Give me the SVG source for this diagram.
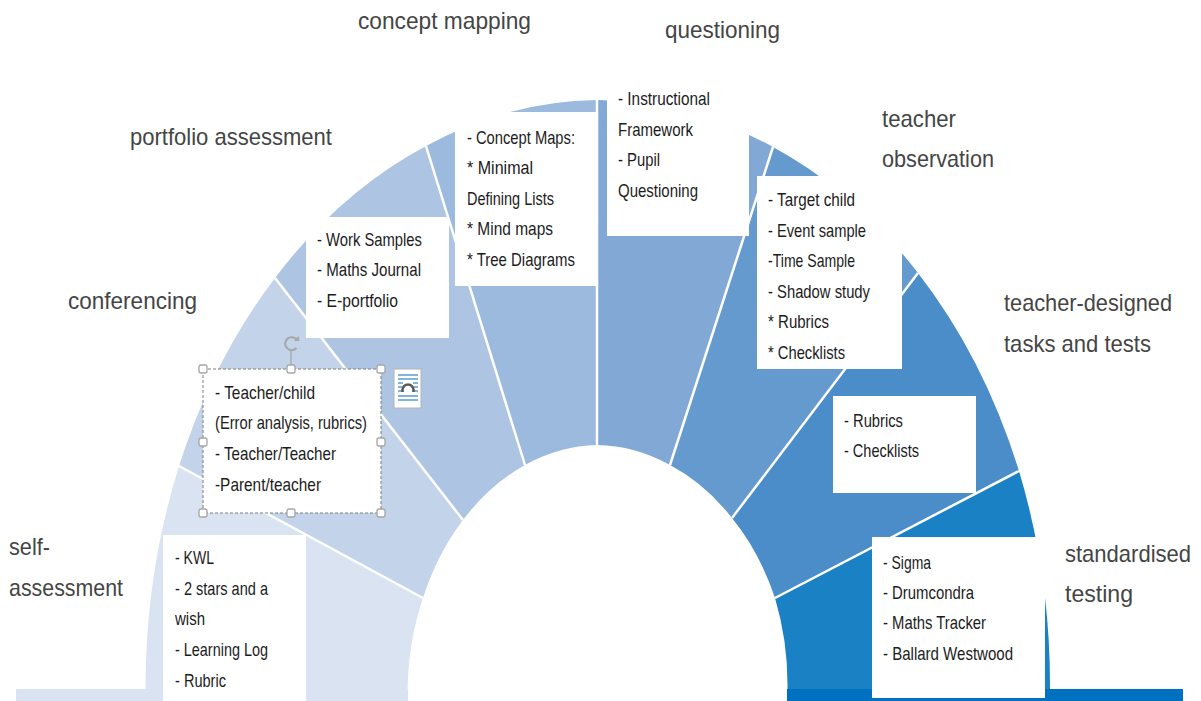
<svg xmlns="http://www.w3.org/2000/svg" width="1201" height="701" viewBox="0 0 1201 701">
<style>
.sep{stroke:#fff;stroke-width:2.5;fill:none}
.box{fill:#fff}
.t{font-family:"Liberation Sans",Arial,sans-serif;font-size:18.5px;fill:#1c1c1c}
.l{font-family:"Liberation Sans",Arial,sans-serif;font-size:24px;fill:#454545}
.h{fill:#fff;stroke:#a6a6a6;stroke-width:1.3}
.sel{fill:#fff;stroke:#7f7f7f;stroke-width:1;stroke-dasharray:3 2}
.ic{stroke:#5b9bd5;stroke-width:1.4;fill:none}
</style>
<rect width="1201" height="701" fill="#fff"/>
<g id="wedges">
<rect x="16" y="689" width="392" height="12" fill="#d9e3f2"/>
<rect x="787" y="689" width="396" height="12" fill="#0070c0"/>
<path fill="#d9e3f2" d="M145.500 690A452 589 0 0 1 179 466L423 598A190 244 0 0 0 407.500 690Z"/>
<path fill="#c3d3ea" d="M179 466A452 589 0 0 1 275 278L463 520A190 244 0 0 0 423 598Z"/>
<path fill="#aec4e3" d="M275 278A452 589 0 0 1 426 146L525 465A190 244 0 0 0 463 520Z"/>
<path fill="#9cb9de" d="M426 146A452 589 0 0 1 597 100L597 445A190 244 0 0 0 525 465Z"/>
<path fill="#82a9d6" d="M597 100A452 589 0 0 1 773 147L670 465A190 244 0 0 0 597 445Z"/>
<path fill="#659acf" d="M773 147A452 589 0 0 1 918 273L732 518A190 244 0 0 0 670 465Z"/>
<path fill="#4a8dc8" d="M918 273A452 589 0 0 1 1019 471L775 598A190 244 0 0 0 732 518Z"/>
<path fill="#1a82c4" d="M1019 471A452 589 0 0 1 1050 689L787.500 689A190 244 0 0 0 775 598Z"/>
</g>
<g id="connectors">
<line class="sep" x1="179" y1="466" x2="423" y2="598"/>
<line class="sep" x1="275" y1="278" x2="463" y2="520"/>
<line class="sep" x1="426" y1="146" x2="525" y2="465"/>
<line class="sep" x1="597" y1="100" x2="597" y2="445"/>
<line class="sep" x1="773" y1="147" x2="670" y2="465"/>
<line class="sep" x1="918" y1="273" x2="732" y2="518"/>
<line class="sep" x1="1019" y1="471" x2="775" y2="598"/>
</g>
<g id="node-self-assessment">
<rect class="box" x="163" y="535" width="143" height="166"/>
<text class="l" x="9" y="555" textLength="41" lengthAdjust="spacingAndGlyphs">self-</text>
<text class="l" x="9" y="596" textLength="114" lengthAdjust="spacingAndGlyphs">assessment</text>
<text class="t" x="175" y="564" textLength="39" lengthAdjust="spacingAndGlyphs">- KWL</text>
<text class="t" x="175" y="595" textLength="93" lengthAdjust="spacingAndGlyphs">- 2 stars and a</text>
<text class="t" x="175" y="625" textLength="30" lengthAdjust="spacingAndGlyphs">wish</text>
<text class="t" x="175" y="656" textLength="93" lengthAdjust="spacingAndGlyphs">- Learning Log</text>
<text class="t" x="175" y="687" textLength="51" lengthAdjust="spacingAndGlyphs">- Rubric</text>
</g>
<g id="node-conferencing">
<text class="l" x="68" y="309" textLength="129" lengthAdjust="spacingAndGlyphs">conferencing</text>
<line x1="291" y1="351" x2="291" y2="369" stroke="#a6a6a6" stroke-width="1.3"/>
<path d="M297 340A6.500 6.500 0 1 0 296.500 348" fill="none" stroke="#a6a6a6" stroke-width="2"/>
<path d="M294 341L299.500 341L298.500 336Z" fill="#a6a6a6"/>
<rect class="sel" x="203" y="369" width="178" height="144"/>
<rect class="h" x="199" y="365" width="8" height="8" rx="2"/>
<rect class="h" x="287" y="365" width="8" height="8" rx="2"/>
<rect class="h" x="377" y="365" width="8" height="8" rx="2"/>
<rect class="h" x="199" y="438" width="8" height="8" rx="2"/>
<rect class="h" x="377" y="438" width="8" height="8" rx="2"/>
<rect class="h" x="199" y="509" width="8" height="8" rx="2"/>
<rect class="h" x="287" y="509" width="8" height="8" rx="2"/>
<rect class="h" x="377" y="509" width="8" height="8" rx="2"/>
<rect x="394" y="369" width="27" height="39" fill="#fff" stroke="#b5b5b5"/>
<path class="ic" d="M398 375H418M398 379H418M398 383H403M413 383H418M398 387H402M414 387H418M398 391H402M414 391H418M398 396H418M398 400H418"/>
<path d="M402.500 392V390A5.500 5.500 0 0 1 413.500 390V392" fill="none" stroke="#595959" stroke-width="2.600"/>
<text class="t" x="215" y="399" textLength="100" lengthAdjust="spacingAndGlyphs">- Teacher/child</text>
<text class="t" x="215" y="429" textLength="152" lengthAdjust="spacingAndGlyphs">(Error analysis, rubrics)</text>
<text class="t" x="215" y="460" textLength="121" lengthAdjust="spacingAndGlyphs">- Teacher/Teacher</text>
<text class="t" x="215" y="491" textLength="106" lengthAdjust="spacingAndGlyphs">-Parent/teacher</text>
</g>
<g id="node-portfolio-assessment">
<rect class="box" x="306" y="217" width="143" height="121"/>
<text class="l" x="130" y="145" textLength="202" lengthAdjust="spacingAndGlyphs">portfolio assessment</text>
<text class="t" x="317" y="246" textLength="105" lengthAdjust="spacingAndGlyphs">- Work Samples</text>
<text class="t" x="317" y="276" textLength="104" lengthAdjust="spacingAndGlyphs">- Maths Journal</text>
<text class="t" x="317" y="307" textLength="81" lengthAdjust="spacingAndGlyphs">- E-portfolio</text>
</g>
<g id="node-concept-mapping">
<rect class="box" x="455" y="112" width="142" height="174"/>
<text class="l" x="358" y="29" textLength="173" lengthAdjust="spacingAndGlyphs">concept mapping</text>
<text class="t" x="467" y="144" textLength="108" lengthAdjust="spacingAndGlyphs">- Concept Maps:</text>
<text class="t" x="467" y="174" textLength="66" lengthAdjust="spacingAndGlyphs">* Minimal</text>
<text class="t" x="467" y="205" textLength="87" lengthAdjust="spacingAndGlyphs">Defining Lists</text>
<text class="t" x="467" y="235" textLength="86" lengthAdjust="spacingAndGlyphs">* Mind maps</text>
<text class="t" x="467" y="266" textLength="108" lengthAdjust="spacingAndGlyphs">* Tree Diagrams</text>
</g>
<g id="node-questioning">
<rect class="box" x="607" y="88" width="142" height="148"/>
<text class="l" x="665" y="38" textLength="115" lengthAdjust="spacingAndGlyphs">questioning</text>
<text class="t" x="618" y="105" textLength="92" lengthAdjust="spacingAndGlyphs">- Instructional</text>
<text class="t" x="618" y="136" textLength="75" lengthAdjust="spacingAndGlyphs">Framework</text>
<text class="t" x="618" y="166" textLength="42" lengthAdjust="spacingAndGlyphs">- Pupil</text>
<text class="t" x="618" y="197" textLength="80" lengthAdjust="spacingAndGlyphs">Questioning</text>
</g>
<g id="node-teacher-observation">
<rect class="box" x="757" y="176" width="145" height="193"/>
<text class="l" x="882" y="127" textLength="74" lengthAdjust="spacingAndGlyphs">teacher</text>
<text class="l" x="882" y="167" textLength="112" lengthAdjust="spacingAndGlyphs">observation</text>
<text class="t" x="768" y="206" textLength="87" lengthAdjust="spacingAndGlyphs">- Target child</text>
<text class="t" x="768" y="237" textLength="98" lengthAdjust="spacingAndGlyphs">- Event sample</text>
<text class="t" x="768" y="267" textLength="87" lengthAdjust="spacingAndGlyphs">-Time Sample</text>
<text class="t" x="768" y="298" textLength="102" lengthAdjust="spacingAndGlyphs">- Shadow study</text>
<text class="t" x="768" y="328" textLength="61" lengthAdjust="spacingAndGlyphs">* Rubrics</text>
<text class="t" x="768" y="359" textLength="77" lengthAdjust="spacingAndGlyphs">* Checklists</text>
</g>
<g id="node-teacher-designed">
<rect class="box" x="833" y="396" width="143" height="97"/>
<text class="l" x="1004" y="311" textLength="168" lengthAdjust="spacingAndGlyphs">teacher-designed</text>
<text class="l" x="1004" y="352" textLength="147" lengthAdjust="spacingAndGlyphs">tasks and tests</text>
<text class="t" x="844" y="427" textLength="59" lengthAdjust="spacingAndGlyphs">- Rubrics</text>
<text class="t" x="844" y="457" textLength="75" lengthAdjust="spacingAndGlyphs">- Checklists</text>
</g>
<g id="node-standardised-testing">
<rect class="box" x="872" y="537" width="173" height="161"/>
<text class="l" x="1065" y="562" textLength="126" lengthAdjust="spacingAndGlyphs">standardised</text>
<text class="l" x="1065" y="602" textLength="68" lengthAdjust="spacingAndGlyphs">testing</text>
<text class="t" x="883" y="569" textLength="48" lengthAdjust="spacingAndGlyphs">- Sigma</text>
<text class="t" x="883" y="599" textLength="91" lengthAdjust="spacingAndGlyphs">- Drumcondra</text>
<text class="t" x="883" y="629" textLength="103" lengthAdjust="spacingAndGlyphs">- Maths Tracker</text>
<text class="t" x="883" y="660" textLength="130" lengthAdjust="spacingAndGlyphs">- Ballard Westwood</text>
</g>
</svg>
